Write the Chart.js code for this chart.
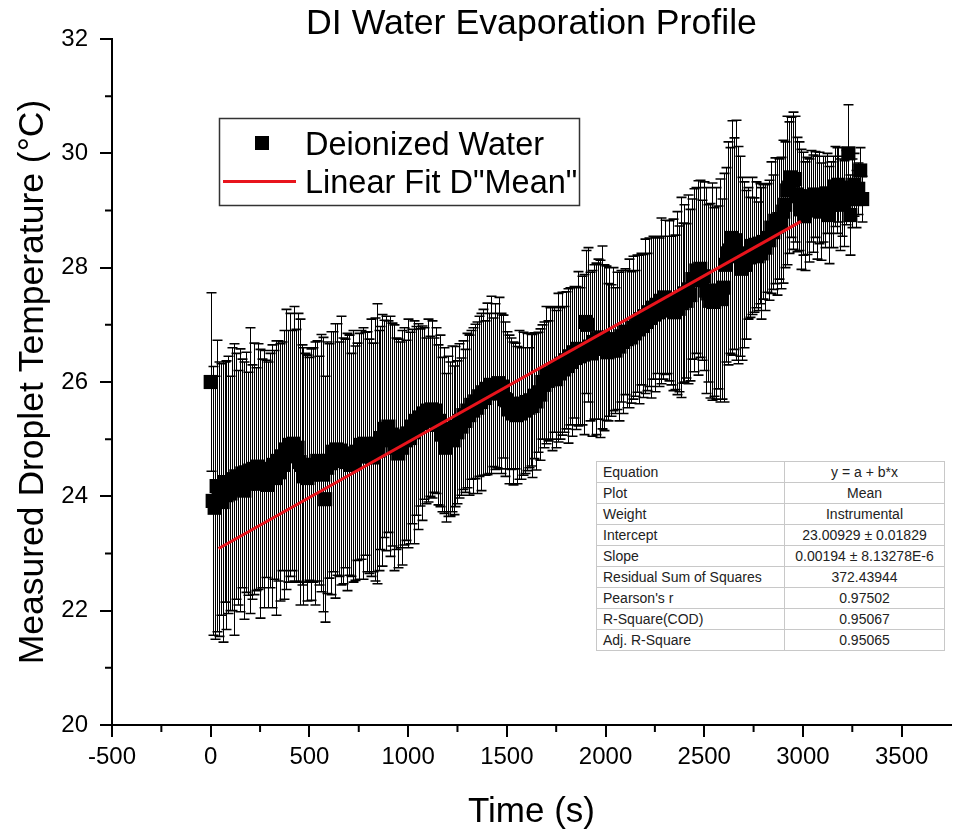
<!DOCTYPE html>
<html>
<head>
<meta charset="utf-8">
<script src="https://cdn.jsdelivr.net/npm/chart.js@4.4.1/dist/chart.umd.min.js"></script>
<style>
html,body{margin:0;padding:0;background:#fff;}
#wrap{position:relative;width:961px;height:836px;}
#c{display:block;}
#fitTable{position:absolute;left:596px;top:461px;width:349px;border-collapse:collapse;table-layout:fixed;
  font-family:"Liberation Sans",Arial,sans-serif;font-size:14px;color:#222;background:#fff;border:1px solid #777;}
#fitTable td{border:1px solid #c8c8c8;height:20px;padding:0;line-height:20px;white-space:nowrap;overflow:hidden;}
#fitTable td.k{padding-left:6px;width:181px;}
#fitTable td.v{text-align:center;}
</style>
</head>
<body>
<div id="wrap">
<canvas id="c" width="961" height="836"></canvas>
<table id="fitTable"></table>
</div>
<script>
// ---------------- data ----------------
const chartTitle = "DI Water Evaporation Profile";
const xTitle = "Time (s)";
const yTitle = "Measured Droplet Temperature (\u00B0C)";
const seriesName = "Deionized Water";
const fitName = 'Linear Fit D"Mean"';

const times = [
0,10,20,30,40,50,60,70,80,90,100,110,120,130,140,150,160,170,180,190,200,
210,220,230,240,250,260,270,280,290,300,310,320,330,340,350,360,370,380,390,400,
410,420,430,440,450,460,470,480,490,500,510,520,530,540,550,560,570,580,590,600,
610,620,630,640,650,660,670,680,690,700,710,720,730,740,750,760,770,780,790,800,
810,820,830,840,850,860,870,880,890,900,910,920,930,940,950,960,970,980,990,1000,
1010,1020,1030,1040,1050,1060,1070,1080,1090,1100,1110,1120,1130,1140,1150,1160,1170,1180,1190,1200,
1210,1220,1230,1240,1250,1260,1270,1280,1290,1300,1310,1320,1330,1340,1350,1360,1370,1380,1390,1400,
1410,1420,1430,1440,1450,1460,1470,1480,1490,1500,1510,1520,1530,1540,1550,1560,1570,1580,1590,1600,
1610,1620,1630,1640,1650,1660,1670,1680,1690,1700,1710,1720,1730,1740,1750,1760,1770,1780,1790,1800,
1810,1820,1830,1840,1850,1860,1870,1880,1890,1900,1910,1920,1930,1940,1950,1960,1970,1980,1990,2000,
2010,2020,2030,2040,2050,2060,2070,2080,2090,2100,2110,2120,2130,2140,2150,2160,2170,2180,2190,2200,
2210,2220,2230,2240,2250,2260,2270,2280,2290,2300,2310,2320,2330,2340,2350,2360,2370,2380,2390,2400,
2410,2420,2430,2440,2450,2460,2470,2480,2490,2500,2510,2520,2530,2540,2550,2560,2570,2580,2590,2600,
2610,2620,2630,2640,2650,2660,2670,2680,2690,2700,2710,2720,2730,2740,2750,2760,2770,2780,2790,2800,
2810,2820,2830,2840,2850,2860,2870,2880,2890,2900,2910,2920,2930,2940,2950,2960,2970,2980,2990,3000,
3010,3020,3030,3040,3050,3060,3070,3080,3090,3100,3110,3120,3130,3140,3150,3160,3170,3180,3190,3200,
3210,3220,3230,3240,3250,3260,3270,3280,3290,3300
];

const meanTemp = [
26.00,23.92,23.80,24.18,23.95,24.12,23.90,24.25,24.02,24.20,24.05,24.30,24.12,24.35,24.15,24.28,24.40,24.10,24.42,24.22,24.45,
24.25,24.48,24.30,24.52,24.22,24.40,24.30,24.48,24.20,24.45,24.35,24.55,24.32,24.62,24.42,24.70,24.55,24.82,24.70,24.90,
24.80,24.92,24.72,24.85,24.60,24.55,24.35,24.50,24.32,24.48,24.38,24.55,24.40,24.62,24.45,24.58,24.38,23.95,24.50,24.62,
24.58,24.78,24.62,24.82,24.65,24.80,24.62,24.75,24.60,24.72,24.55,24.70,24.58,24.78,24.70,24.90,24.75,24.92,24.78,24.70,
24.85,24.68,24.82,24.92,24.80,25.02,24.98,25.18,25.10,25.22,25.05,25.08,24.85,24.92,24.75,24.90,24.85,25.05,24.98,25.10,
25.02,25.22,25.12,25.32,25.22,25.38,25.28,25.45,25.32,25.50,25.40,25.52,25.42,25.50,25.25,25.32,25.08,25.15,24.85,25.05,
25.00,25.18,24.98,25.22,25.12,25.32,25.22,25.42,25.32,25.50,25.42,25.60,25.50,25.66,25.55,25.75,25.65,25.82,25.72,25.88,
25.80,25.95,25.82,25.92,25.85,25.98,25.80,25.92,25.70,25.68,25.52,25.62,25.45,25.58,25.42,25.60,25.45,25.62,25.50,25.65,
25.55,25.68,25.58,25.76,25.66,25.82,25.78,26.00,25.95,26.12,26.02,26.15,26.05,26.22,26.05,26.25,26.15,26.32,26.22,26.38,
26.28,26.45,26.35,26.52,26.42,26.58,26.45,26.55,26.48,27.05,27.00,26.62,26.50,26.70,26.58,26.75,26.58,26.78,26.60,26.68,
26.52,26.70,26.55,26.75,26.55,26.72,26.62,26.80,26.70,26.88,26.75,26.85,26.78,26.95,26.85,27.02,26.92,27.10,26.98,27.15,
27.05,27.22,27.12,27.30,27.18,27.35,27.22,27.42,27.30,27.48,27.35,27.42,27.25,27.35,27.22,27.38,27.28,27.48,27.38,27.55,
27.42,27.62,27.52,27.80,27.78,27.95,27.82,27.98,27.78,27.85,27.60,27.55,27.42,27.58,27.40,27.55,27.48,27.60,27.45,27.65,
28.05,28.25,28.30,28.52,28.42,28.48,28.22,28.20,27.98,28.05,28.05,28.25,28.18,28.38,28.22,28.40,28.20,28.42,28.25,28.45,
28.35,28.52,28.48,28.70,28.62,28.82,28.72,28.85,28.78,28.98,29.10,29.35,29.40,29.58,29.52,29.55,29.28,29.25,29.02,29.12,
28.90,29.08,29.00,29.25,29.12,29.28,29.05,29.22,28.98,29.20,29.15,29.30,28.92,29.10,29.15,29.42,29.35,29.45,29.10,29.25,
29.12,29.40,30.00,28.92,29.30,29.45,29.20,29.38,29.70,29.20
];

const errTemp = [
1.56,2.35,2.30,2.55,2.40,2.20,2.45,2.10,2.35,2.25,2.05,2.30,2.55,2.15,2.05,2.30,2.00,2.25,2.10,1.95,2.50,
2.05,2.20,1.95,2.15,2.35,2.00,2.25,1.90,2.15,2.05,2.30,2.00,2.40,2.10,2.25,2.00,2.35,2.45,2.20,2.30,
2.10,2.40,2.20,2.35,2.50,2.10,2.25,2.00,2.15,1.95,2.20,2.05,2.30,2.10,2.00,2.25,2.40,2.15,2.20,2.05,
2.30,2.10,2.40,2.20,2.05,2.35,2.15,2.00,2.25,2.10,1.95,2.20,2.05,1.90,2.15,2.00,2.20,1.95,2.10,2.05,
2.25,2.00,2.30,2.45,2.10,1.95,2.20,1.90,2.05,1.85,2.10,1.95,2.15,1.85,2.00,1.80,2.05,1.90,1.75,2.00,
1.85,1.70,1.95,1.65,1.80,1.55,1.70,1.50,1.45,1.60,1.40,1.55,1.35,1.45,1.40,1.50,1.35,1.45,1.30,1.40,
1.35,1.45,1.30,1.40,1.25,1.35,1.20,1.30,1.25,1.35,1.40,1.30,1.45,1.35,1.50,1.40,1.55,1.45,1.35,1.50,
1.40,1.55,1.30,1.45,1.35,1.50,1.40,1.25,1.35,1.20,1.30,1.15,1.25,1.10,1.20,1.30,1.15,1.25,1.10,1.20,
1.05,1.15,1.25,1.10,1.20,1.05,1.15,1.00,1.10,1.20,1.05,1.15,1.25,1.10,1.20,1.30,1.15,1.25,1.10,1.20,
1.35,1.20,1.30,1.15,1.25,1.35,1.20,1.30,1.40,1.25,1.35,1.30,1.45,1.35,1.50,1.40,1.55,1.60,1.45,1.35,
1.20,1.30,1.15,1.25,1.10,1.20,1.30,1.15,1.25,1.10,1.20,1.30,1.15,1.25,1.10,1.20,1.30,1.15,1.25,1.35,
1.20,1.30,1.40,1.25,1.35,1.20,1.30,1.45,1.25,1.35,1.20,1.40,1.30,1.50,1.35,1.60,1.45,1.75,1.40,1.55,
1.35,1.65,1.50,1.40,1.60,1.45,1.70,1.55,1.40,1.65,1.80,1.55,1.70,1.90,1.65,1.85,1.60,1.95,1.75,2.00,
1.70,1.95,1.80,2.05,1.85,2.10,1.90,1.75,1.60,1.45,1.30,1.15,1.05,1.20,1.00,1.10,0.95,1.05,1.15,1.00,
1.10,0.95,1.05,1.15,1.00,1.10,1.20,1.05,1.15,1.25,1.10,1.30,1.15,1.05,1.20,1.10,1.00,0.95,1.05,0.90,
0.95,0.85,0.90,0.80,0.85,0.75,0.90,0.80,0.85,0.75,0.80,0.70,0.85,0.75,0.80,0.70,0.75,0.65,0.80,0.70,
0.75,0.65,0.85,0.70,0.60,0.55,0.50,0.45,0.40,0.40
];

// linear fit (from the fit table) and the time range it is drawn over
const fitIntercept = 23.00929;
const fitSlope = 0.00194;
const fitRange = [40, 2990];

// axis ticks
const xTickValues = [-500, 0, 500, 1000, 1500, 2000, 2500, 3000, 3500];
const yTickValues = [20, 22, 24, 26, 28, 30, 32];

// fit statistics table
const tableKeys = ["Equation","Plot","Weight","Intercept","Slope","Residual Sum of Squares","Pearson's r","R-Square(COD)","Adj. R-Square"];
const tableVals = ["y = a + b*x","Mean","Instrumental","23.00929 \u00B1 0.01829","0.00194 \u00B1 8.13278E-6","372.43944","0.97502","0.95067","0.95065"];

// ---------------- build ----------------
const FONT = '"Liberation Sans", Arial, Helvetica, sans-serif';
Chart.defaults.font.family = FONT;
Chart.defaults.color = '#000';

const tbl = document.getElementById('fitTable');
tableKeys.forEach((k, i) => {
  const tr = document.createElement('tr');
  const a = document.createElement('td'); a.className = 'k'; a.textContent = k;
  const b = document.createElement('td'); b.className = 'v'; b.textContent = tableVals[i];
  tr.appendChild(a); tr.appendChild(b); tbl.appendChild(tr);
});

const points = times.map((t, i) => ({x: t, y: meanTemp[i]}));
const fitPoints = fitRange.map(t => ({x: t, y: fitIntercept + fitSlope * t}));

const errorBarPlugin = {
  id: 'errorBars',
  beforeDatasetsDraw(chart) {
    const {ctx, chartArea, scales: {x, y}} = chart;
    ctx.save();
    ctx.beginPath();
    ctx.rect(chartArea.left, chartArea.top, chartArea.width, chartArea.height);
    ctx.clip();
    ctx.strokeStyle = '#000';
    ctx.lineWidth = 1;
    ctx.beginPath();
    for (let i = 0; i < times.length; i++) {
      const px = Math.round(x.getPixelForValue(times[i])) + 0.5;
      const yt = y.getPixelForValue(meanTemp[i] + errTemp[i]);
      const yb = y.getPixelForValue(meanTemp[i] - errTemp[i]);
      ctx.moveTo(px, yt); ctx.lineTo(px, yb);
    }
    ctx.stroke();
    ctx.lineWidth = 1.6;
    ctx.beginPath();
    for (let i = 0; i < times.length; i++) {
      const px = Math.round(x.getPixelForValue(times[i])) + 0.5;
      const yt = y.getPixelForValue(meanTemp[i] + errTemp[i]);
      const yb = y.getPixelForValue(meanTemp[i] - errTemp[i]);
      ctx.moveTo(px - 5, yt); ctx.lineTo(px + 5, yt);
      ctx.moveTo(px - 5, yb); ctx.lineTo(px + 5, yb);
    }
    ctx.stroke();
    ctx.restore();
  }
};

const decorPlugin = {
  id: 'decor',
  afterDraw(chart) {
    const {ctx, chartArea, scales: {x, y}} = chart;
    ctx.save();
    // minor ticks
    ctx.strokeStyle = '#000';
    ctx.lineWidth = 2;
    ctx.beginPath();
    for (let i = 0; i < xTickValues.length; i++) {
      const v = xTickValues[i] + 250;
      const px = x.getPixelForValue(v);
      if (px > chartArea.right - 1) continue;
      ctx.moveTo(px, chartArea.bottom); ctx.lineTo(px, chartArea.bottom + 7);
    }
    for (let i = 0; i < yTickValues.length - 1; i++) {
      const v = yTickValues[i] + 1;
      const py = y.getPixelForValue(v);
      ctx.moveTo(chartArea.left, py); ctx.lineTo(chartArea.left - 7, py);
    }
    ctx.stroke();

    // legend box
    const bx = 219.5, by = 118.5, bw = 360, bh = 87;
    ctx.fillStyle = '#fff';
    ctx.fillRect(bx, by, bw, bh);
    ctx.strokeStyle = '#333';
    ctx.lineWidth = 1.5;
    ctx.strokeRect(bx, by, bw, bh);
    ctx.fillStyle = '#000';
    ctx.fillRect(255, 136, 14, 14);
    ctx.strokeStyle = '#e8141c';
    ctx.lineWidth = 3;
    ctx.beginPath(); ctx.moveTo(223, 181.5); ctx.lineTo(296, 181.5); ctx.stroke();
    ctx.fillStyle = '#000';
    ctx.font = '32.5px ' + FONT;
    ctx.textAlign = 'left';
    ctx.textBaseline = 'alphabetic';
    ctx.fillText(seriesName, 305, 155);
    ctx.fillText(fitName, 305, 193);
    ctx.restore();
  }
};

new Chart(document.getElementById('c'), {
  type: 'scatter',
  data: {
    datasets: [
      {
        label: fitName,
        data: fitPoints,
        showLine: true,
        borderColor: '#e8141c',
        borderWidth: 3,
        pointRadius: 0,
        fill: false,
        order: 0
      },
      {
        label: seriesName,
        data: points,
        pointStyle: 'rect',
        pointRadius: 10,
        pointHoverRadius: 10,
        pointBackgroundColor: '#000',
        pointBorderWidth: 0,
        borderWidth: 0,
        showLine: false,
        order: 1
      }
    ]
  },
  options: {
    responsive: false,
    animation: false,
    events: [],
    layout: {padding: {left: 0, right: 0, top: 0, bottom: 0}},
    plugins: {
      legend: {display: false},
      tooltip: {enabled: false},
      title: {
        display: true,
        text: chartTitle,
        fullSize: false,
        font: {size: 35.7, weight: 'normal', lineHeight: 1},
        color: '#000',
        padding: {top: 6, bottom: -2.7}
      }
    },
    scales: {
      x: {
        type: 'linear',
        min: -500,
        max: 3750,
        afterFit(s) { s.height = 111; },
        afterBuildTicks(s) { s.ticks = xTickValues.map(v => ({value: v})); },
        ticks: {
          includeBounds: false,
          maxRotation: 0,
          autoSkip: false,
          padding: 6,
          font: {size: 24},
          color: '#000',
          callback: v => String(v)
        },
        grid: {display: true, drawOnChartArea: false, drawTicks: true, tickLength: 12, tickWidth: 2, tickColor: '#000', color: '#000', lineWidth: 2},
        border: {display: true, color: '#000', width: 2},
        title: {display: true, text: xTitle, font: {size: 35}, color: '#000', padding: {top: 0, bottom: 3}}
      },
      y: {
        type: 'linear',
        min: 20,
        max: 32,
        afterFit(s) { s.width = 112; },
        afterBuildTicks(s) { s.ticks = yTickValues.map(v => ({value: v})); },
        ticks: {
          autoSkip: false,
          padding: 12,
          font: {size: 24},
          color: '#000',
          callback: v => String(v)
        },
        grid: {display: true, drawOnChartArea: false, drawTicks: true, tickLength: 12, tickWidth: 2, tickColor: '#000', color: '#000', lineWidth: 2},
        border: {display: true, color: '#000', width: 2},
        title: {display: true, text: yTitle, font: {size: 35.5}, color: '#000', padding: {top: 12, bottom: 0}}
      }
    }
  },
  plugins: [errorBarPlugin, decorPlugin]
});
</script>
</body>
</html>
